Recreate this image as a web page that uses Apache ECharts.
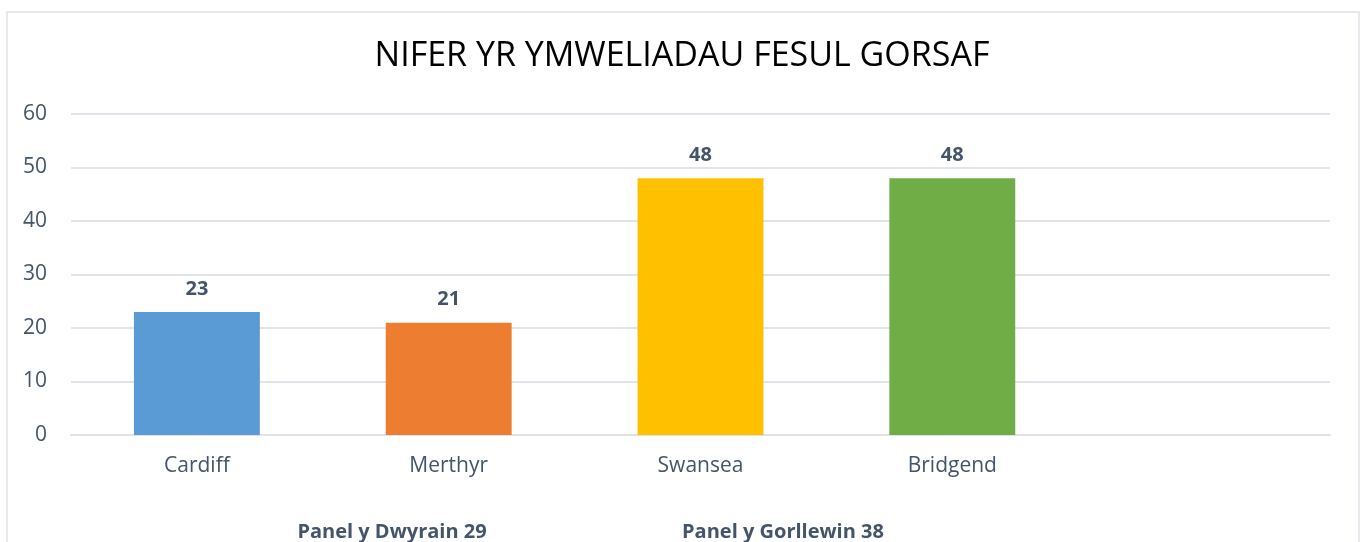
<!DOCTYPE html>
<html>
<head>
<meta charset="utf-8">
<script src="https://cdn.jsdelivr.net/npm/echarts@6/dist/echarts.min.js"></script>
<style>
html,body{margin:0;padding:0;background:#fff;}
#c{width:1364px;height:542px;}
</style>
</head>
<body>
<div id="c"></div>
<script>
const titleText = 'NIFER YR YMWELIADAU FESUL GORSAF';
const categories = ['Cardiff', 'Merthyr', 'Swansea', 'Bridgend', ''];
const values = [23, 21, 48, 48, null];
const barColors = ['#5B9BD5', '#ED7D31', '#FFC000', '#70AD47', '#A5A5A5'];
const yTicks = [0, 10, 20, 30, 40, 50, 60];
const groupLabels = ['Panel y Dwyrain 29', 'Panel y Gorllewin 38'];

const textColor = '#44546A';
const font = '"Open Sans", "Noto Sans", sans-serif';

const chart = echarts.init(document.getElementById('c'));
chart.setOption({
  animation: false,
  backgroundColor: '#ffffff',
  title: {
    text: titleText,
    left: 'center',
    top: 34,
    textStyle: { fontFamily: font, fontSize: 34, fontWeight: 'normal', color: '#000000' }
  },
  grid: { left: 71, right: 34, top: 114, bottom: 107, containLabel: false },
  xAxis: {
    type: 'category',
    data: categories,
    axisTick: { show: false },
    axisLine: { show: true, lineStyle: { color: '#dfe3e9', width: 2 } },
    axisLabel: { color: textColor, fontFamily: font, fontSize: 21, margin: 21 }
  },
  yAxis: {
    type: 'value',
    min: yTicks[0],
    max: yTicks[yTicks.length - 1],
    interval: 10,
    axisLine: { show: false },
    axisTick: { show: false },
    splitLine: { lineStyle: { color: '#e1e5eb', width: 2 } },
    axisLabel: { color: textColor, fontFamily: font, fontSize: 21, margin: 24 }
  },
  series: [{
    type: 'bar',
    barWidth: '50%',
    data: values.map((v, i) => ({ value: v, itemStyle: { color: barColors[i] } })),
    label: {
      show: true,
      position: 'top',
      distance: 13,
      color: textColor,
      fontFamily: font,
      fontSize: 20,
      fontWeight: 'bold',
      formatter: p => (p.value == null ? '' : p.value)
    }
  }],
  graphic: [
    {
      type: 'rect',
      shape: { x: 7, y: 12, width: 1352, height: 560 },
      style: { fill: 'none', stroke: '#dde1e7', lineWidth: 1.5 },
      silent: true
    },
    {
      type: 'text',
      x: 392, y: 532,
      style: { text: groupLabels[0], fill: textColor, font: 'bold 20px ' + font, align: 'center', verticalAlign: 'middle' }
    },
    {
      type: 'text',
      x: 783, y: 532,
      style: { text: groupLabels[1], fill: textColor, font: 'bold 20px ' + font, align: 'center', verticalAlign: 'middle' }
    }
  ]
});
</script>
</body>
</html>
